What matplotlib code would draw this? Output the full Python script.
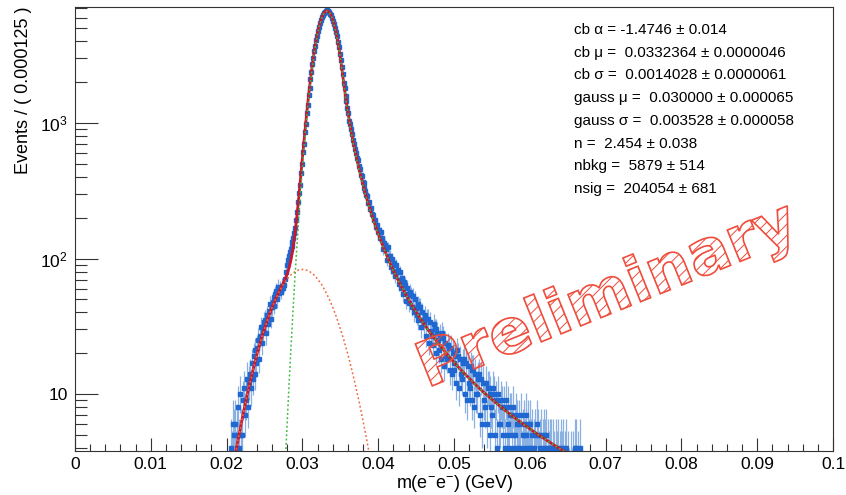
import numpy as np
import matplotlib
matplotlib.use('Agg')
import matplotlib.pyplot as plt
from matplotlib.ticker import FixedLocator, FixedFormatter, MultipleLocator, LogLocator, NullFormatter
from matplotlib.textpath import TextPath
from matplotlib.patches import PathPatch
from matplotlib.font_manager import FontProperties
import matplotlib.transforms as mtransforms

plt.rcParams['font.family'] = ['Liberation Sans', 'DejaVu Sans']
plt.rcParams['mathtext.fontset'] = 'custom'
plt.rcParams['mathtext.rm'] = 'Liberation Sans'
plt.rcParams['mathtext.it'] = 'Liberation Sans:italic'
plt.rcParams['hatch.linewidth'] = 0.7

# ---------------- data ----------------
BIN_WIDTH = 0.000125
DATA_START = 0.0205

counts_low = [4, 3, 6, 5, 6, 3, 5, 4, 8, 4, 10, 5, 5, 9, 11, 7,
              9, 13, 8, 12, 14, 11, 17, 13, 19, 14, 21, 17, 22, 25, 18, 27,
              31, 24, 29, 34, 35, 28, 38, 33, 41, 46, 36, 44, 48, 52, 45, 55,
              58, 50, 62, 56, 60, 57, 63, 61, 64, 71, 80, 90, 98, 104, 112, 118,
              124, 133, 142, 155]

counts_peak = [168, 193, 221, 262, 306, 349, 431, 497, 612, 705, 858, 989,
               1183, 1352, 1601, 1817, 2110, 2371, 2705, 3001, 3379, 3690, 4098, 4412,
               4805, 5101, 5479, 5740, 6012, 6293, 6431, 6637, 6719, 6781, 6722, 6650,
               6589, 6377, 6231, 5931, 5702, 5340, 5061, 4659, 4351, 3941, 3627, 3232,
               2930, 2569, 2298, 1989, 1802, 1571, 1446, 1293, 1178, 1041, 978, 896,
               829, 751, 702, 648]

counts_tail = [604, 552, 531, 481, 459, 412, 407, 368, 358, 329, 316, 292,
               287, 256, 262, 233, 236, 214, 209, 193, 192, 171, 177, 158,
               163, 141, 158, 139, 142, 117, 131, 125, 118, 98, 121, 104,
               104, 86, 99, 81, 93, 74, 89, 80, 82, 65, 79, 69,
               61, 72, 55, 67, 64, 49, 61, 55, 47, 57, 54, 44,
               53, 40, 50, 43, 38, 46, 35, 44, 44, 31, 40, 35,
               33, 38, 27, 36, 36, 24, 34, 29, 27, 23, 33, 30,
               30, 20, 28, 25, 21, 27, 18, 28, 26, 16, 24, 19,
               18, 23, 22, 15, 22, 14, 20, 17, 15, 19, 12, 21,
               19, 11, 18, 14, 13, 17, 18, 10, 17, 9, 16, 12,
               11, 16, 9, 15, 15, 8, 14, 10, 10, 13, 14, 7,
               13, 6, 12, 9, 8, 12, 6, 11, 11, 5, 10, 8,
               7, 11, 10, 5, 9, 4, 10, 6, 6, 9, 8, 5,
               8, 4, 9, 5, 6, 8, 4, 7, 7, 5, 8, 4,
               5, 7, 6, 4, 6, 4, 7, 3, 5, 6, 4, 7,
               5, 3, 6, 4, 6, 4, 5, 2, 4, 5, 3, 6,
               5, 3, 4, 5, 2, 4, 5, 3, 4, 5, 2, 4,
               3, 4, 4, 2, 4, 3, 2, 4, 3, 4, 2, 3,
               4, 2, 3, 4, 2, 3, 4, 1, 3, 2, 1, 3,
               2, 3, 2, 4, 4, 2, 3, 1, 2, 4, 1, 2]

# total fit curve
fit_x = [0.0205, 0.021, 0.0215, 0.022, 0.0225, 0.023, 0.0235, 0.024, 0.0245, 0.025,
         0.0255, 0.026, 0.0265, 0.027, 0.0275, 0.02775, 0.028, 0.02825, 0.0285, 0.02875,
         0.029, 0.02925, 0.0295, 0.02975, 0.030, 0.03025, 0.0305, 0.03075, 0.031, 0.03125,
         0.0315, 0.03175, 0.032, 0.03225, 0.0325, 0.03275, 0.033, 0.0332364, 0.0335, 0.03375,
         0.034, 0.03425, 0.0345, 0.03475, 0.035, 0.035305, 0.0355, 0.03575, 0.036, 0.03625,
         0.0365, 0.03675, 0.037, 0.0375, 0.038, 0.0385, 0.039, 0.0395, 0.040, 0.0405,
         0.041, 0.0415, 0.042, 0.0425, 0.043, 0.0435, 0.044, 0.0445, 0.045, 0.0455,
         0.046, 0.0465, 0.047, 0.0475, 0.048, 0.049, 0.050, 0.051, 0.052, 0.053,
         0.054, 0.055, 0.056, 0.057, 0.058, 0.059, 0.060, 0.061, 0.062, 0.063,
         0.064, 0.065, 0.066]
fit_total = [2.21, 3.21, 4.56, 6.35, 8.67, 11.6, 15.2, 19.6, 24.7, 30.4,
             36.8, 43.7, 50.9, 58.2, 66.3, 71.0, 77.0, 85.6, 98.3, 118,
             149.8, 199, 275, 388, 551, 777, 1080, 1473, 1957, 2534,
             3187, 3891, 4609, 5294, 5895, 6362, 6655, 6745, 6625, 6304,
             5814, 5194, 4497, 3773, 3066, 2283, 1877, 1492, 1210, 996,
             832, 704, 603, 452, 349, 276, 223, 183, 152.3, 128.4,
             109.4, 94.2, 81.9, 71.6, 63.0, 56.0, 49.9, 44.8, 40.4, 36.5,
             33.2, 30.2, 27.7, 25.4, 23.4, 19.9, 17.2, 14.9, 13.1, 11.5,
             10.2, 9.14, 8.20, 7.39, 6.68, 6.07, 5.54, 5.06, 4.65, 4.28,
             3.94, 3.65, 3.40]

# signal (crystal ball) component
sig_x = [0.0275, 0.02775, 0.028, 0.02825, 0.0285, 0.02875, 0.029, 0.02925, 0.0295, 0.02975,
         0.030, 0.03025, 0.0305, 0.03075, 0.031, 0.03125, 0.0315, 0.03175, 0.032, 0.03225,
         0.0325, 0.03275, 0.033, 0.0332364, 0.0335, 0.03375, 0.034, 0.03425, 0.0345, 0.03475,
         0.035, 0.035305, 0.0355, 0.03575, 0.036, 0.03625, 0.0365, 0.03675, 0.037, 0.0375,
         0.038, 0.0385, 0.039, 0.0395, 0.040, 0.0405, 0.041, 0.0415, 0.042, 0.0425,
         0.043, 0.0435, 0.044, 0.0445, 0.045, 0.0455, 0.046, 0.0465, 0.047, 0.0475,
         0.048, 0.049, 0.050, 0.051, 0.052, 0.053, 0.054, 0.055, 0.056, 0.057,
         0.058, 0.059, 0.060, 0.061, 0.062, 0.063, 0.064, 0.065, 0.066]
sig_vals = [1.57, 3.19, 6.30, 12.1, 22.4, 40.2, 70.0, 118.0, 193, 305,
            468, 694, 998, 1392, 1877, 2456, 3111, 3817, 4538, 5226,
            5830, 6301, 6597, 6691, 6574, 6257, 5770, 5154, 4460, 3739,
            3036, 2256, 1852, 1470, 1190, 979, 817, 691, 591, 443.6,
            343, 271.8, 219.8, 180.8, 150.8, 127.4, 108.8, 93.8, 81.6, 71.5,
            63.0, 56.0, 49.9, 44.8, 40.4, 36.5, 33.2, 30.2, 27.7, 25.4,
            23.4, 19.9, 17.2, 14.9, 13.1, 11.5, 10.2, 9.14, 8.20, 7.39,
            6.68, 6.07, 5.54, 5.06, 4.65, 4.28, 3.94, 3.65, 3.40]

# background (gauss) component
bkg_x = [0.020, 0.0205, 0.021, 0.0215, 0.022, 0.0225, 0.023, 0.0235, 0.024, 0.0245,
         0.025, 0.0255, 0.026, 0.0265, 0.027, 0.0275, 0.028, 0.0285, 0.029, 0.0295,
         0.030, 0.0305, 0.031, 0.0315, 0.032, 0.0325, 0.033, 0.0335, 0.034, 0.0345,
         0.035, 0.0355, 0.036, 0.0365, 0.037, 0.0375, 0.038, 0.0385, 0.039, 0.0395, 0.040]
bkg_vals = [1.50, 2.21, 3.21, 4.56, 6.35, 8.67, 11.6, 15.2, 19.6, 24.7,
            30.4, 36.8, 43.7, 50.8, 57.9, 64.7, 70.7, 75.9, 79.8, 82.3,
            83.1, 82.3, 79.8, 75.9, 70.7, 64.7, 57.9, 50.8, 43.7, 36.8,
            30.4, 24.7, 19.6, 15.2, 11.6, 8.67, 6.35, 4.56, 3.21, 2.21, 1.50]

param_lines = ["cb \u03b1 = -1.4746 \u00b1 0.014",
               "cb \u03bc =  0.0332364 \u00b1 0.0000046",
               "cb \u03c3 =  0.0014028 \u00b1 0.0000061",
               "gauss \u03bc =  0.030000 \u00b1 0.000065",
               "gauss \u03c3 =  0.003528 \u00b1 0.000058",
               "n =  2.454 \u00b1 0.038",
               "nbkg =  5879 \u00b1 514",
               "nsig =  204054 \u00b1 681"]

x_ticks = [0, 0.01, 0.02, 0.03, 0.04, 0.05, 0.06, 0.07, 0.08, 0.09, 0.1]
x_tick_labels = ['0', '0.01', '0.02', '0.03', '0.04', '0.05', '0.06', '0.07', '0.08', '0.09', '0.1']
y_ticks = [10, 100, 1000]
y_tick_labels = ['10', r'$10^{2}$', r'$10^{3}$']

# ---------------- figure ----------------
W, H = 846, 495
fig = plt.figure(figsize=(W / 100, H / 100), dpi=100)
ax = fig.add_axes([75 / W, 1 - 451 / H, (833 - 75) / W, (451 - 7) / H])

counts = np.array(counts_low + counts_peak + counts_tail, dtype=float)
centers = DATA_START + BIN_WIDTH * (np.arange(len(counts)) + 0.5)
mask = counts > 0
n = counts[mask]
err_lo = np.sqrt(n + 0.25) - 0.5
err_hi = np.sqrt(n + 0.25) + 0.5

ax.errorbar(centers[mask], n, yerr=[err_lo, err_hi], fmt='s', ms=2.6,
            mfc='#1f68d1', mec='#1f68d1', ecolor='#8ab1e2', elinewidth=0.9,
            capsize=0, zorder=2)

ax.plot(fit_x, fit_total, color='#c8182f', lw=2.0, zorder=3)
ax.plot(bkg_x, bkg_vals, color='#f0683c', lw=1.1, ls=(0, (1.2, 1.6)), zorder=4)
ax.plot(sig_x, sig_vals, color='#3cb83c', lw=1.1, ls=(0, (1.2, 1.6)), zorder=4)

ax.set_yscale('log')
ax.set_xlim(0, 0.1)
ax.set_ylim(3.8, 7180)

ax.xaxis.set_major_locator(FixedLocator(x_ticks))
ax.xaxis.set_major_formatter(FixedFormatter(x_tick_labels))
ax.xaxis.set_minor_locator(MultipleLocator(0.002))
ax.yaxis.set_major_locator(FixedLocator(y_ticks))
ax.yaxis.set_major_formatter(FixedFormatter(y_tick_labels))
ax.yaxis.set_minor_locator(LogLocator(base=10, subs=(2, 3, 4, 5, 6, 7, 8, 9)))
ax.yaxis.set_minor_formatter(NullFormatter())

ax.tick_params(axis='x', which='major', direction='in', length=9.4, width=0.8,
               labelsize=12.5, pad=4, top=False, color='#333333')
ax.tick_params(axis='x', which='minor', direction='in', length=4.7, width=0.8,
               top=False, color='#333333')
ax.tick_params(axis='y', which='major', direction='in', length=16.6, width=0.8,
               labelsize=12.5, pad=5, right=False, color='#333333')
ax.tick_params(axis='y', which='minor', direction='in', length=8.3, width=0.8,
               right=False, color='#333333')
for sp in ax.spines.values():
    sp.set_linewidth(0.8)
    sp.set_color('#333333')

ax.set_xlabel(r'm(e$^{-}$e$^{-}$) (GeV)', fontsize=13, labelpad=1)
ax.text(-0.068, 1.0, 'Events / ( 0.000125 )', transform=ax.transAxes,
        rotation=90, ha='center', va='top', fontsize=13)

for i, line in enumerate(param_lines):
    fig.text(574 / W, 1 - (30 + i * 22.7) / H, line, fontsize=11, va='center', ha='left')

# "Preliminary" watermark
fp = FontProperties(family='DejaVu Sans', weight='bold')
tp = TextPath((0, 0), 'Preliminary', size=62, prop=fp)
trans = mtransforms.Affine2D().scale(1 / 100).rotate_deg(22).translate(4.27, 1.07) + fig.dpi_scale_trans
patch = PathPatch(tp, transform=trans, facecolor='none', edgecolor='#ef4c3c',
                  lw=1.2, hatch='///', zorder=10)
fig.add_artist(patch)

fig.savefig('out.png', dpi=100)
